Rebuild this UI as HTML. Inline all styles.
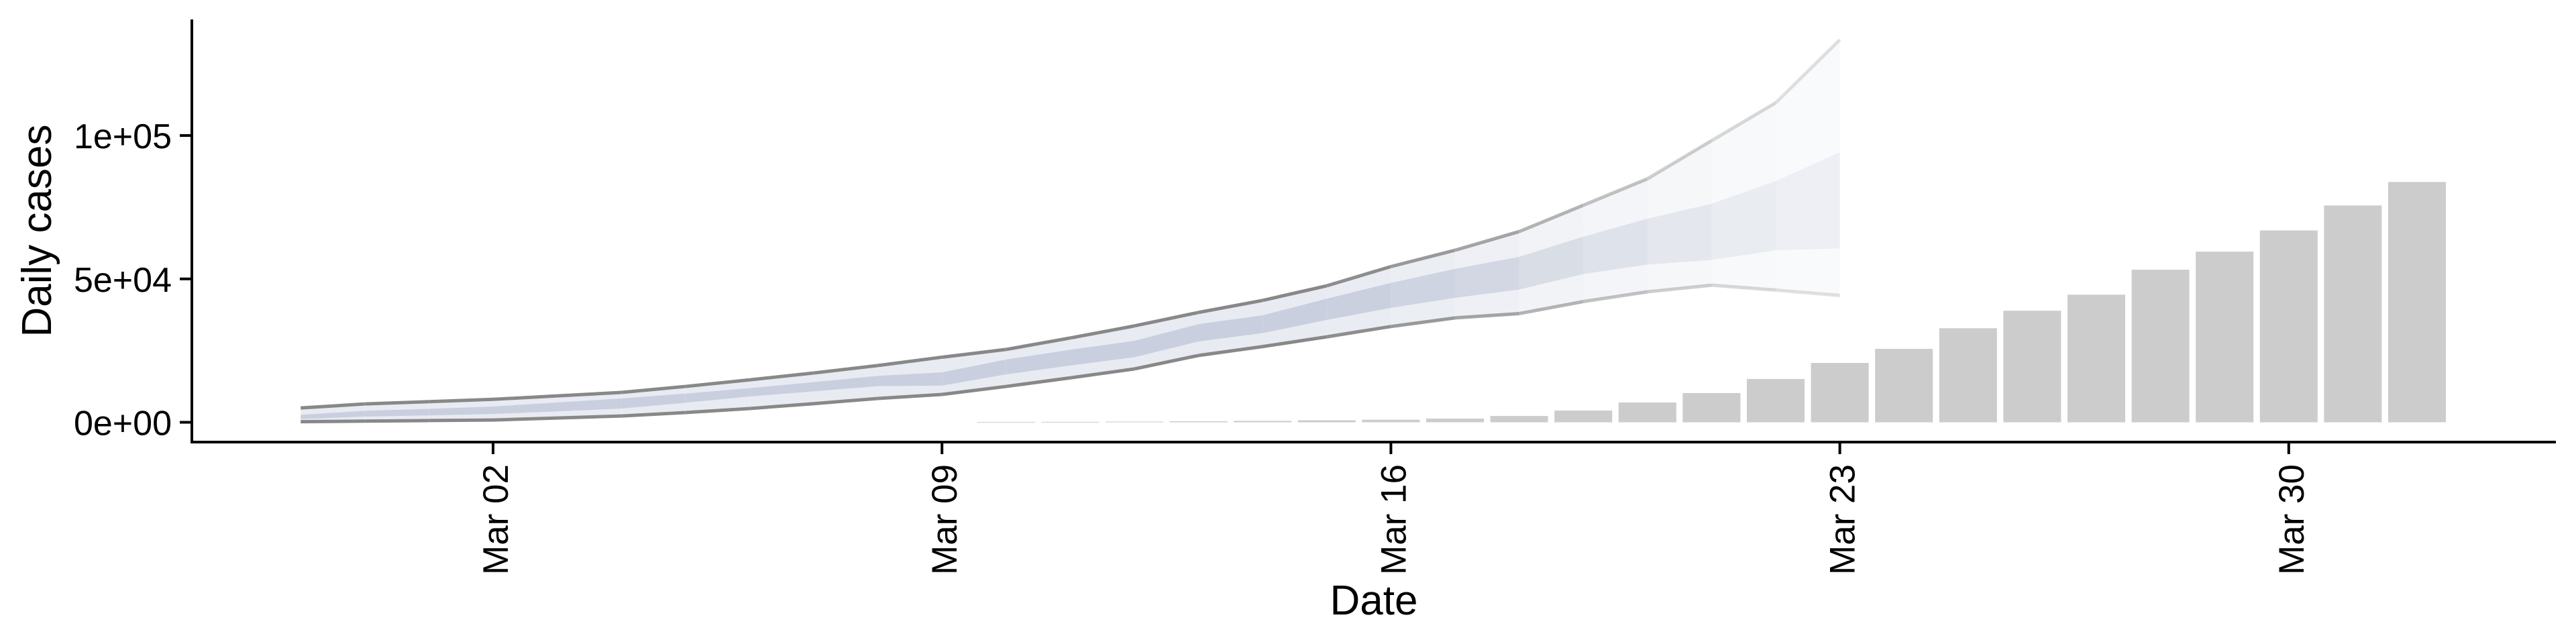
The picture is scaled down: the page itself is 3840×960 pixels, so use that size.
<!DOCTYPE html>
<html><head><meta charset="utf-8"><style>
html,body{margin:0;padding:0;background:#fff}
svg{display:block}
text{font-family:"Liberation Sans",Arial,sans-serif;fill:#000}
</style></head><body>
<svg id="chart" width="3840" height="960" viewBox="0 0 3840 960" xmlns="http://www.w3.org/2000/svg">
<g id="ribbons"></g>
<g id="bars"></g>
<g id="axes"></g>
</svg>
<script>
// ---- data ----
const ribbonDays = [-3,-2,-1,0,1,2,3,4,5,6,7,8,9,10,11,12,13,14,15,16,17,18,19,20,21]; // days relative to Mar 02 (Feb 28 .. Mar 23)
const outerUpper = [5000,6400,7200,8000,9200,10400,12500,14800,17200,19800,22700,25400,29400,33600,38300,42500,47600,54300,60000,66500,75700,84900,98200,111400,133400];
const outerLower = [200,400,600,800,1500,2200,3400,4800,6500,8300,9700,12500,15500,18600,23300,26400,29800,33400,36400,37900,42100,45500,47800,46100,44200];
const innerUpper = [2600,4000,4700,5500,6900,8300,10000,11900,14000,16200,17400,21900,25300,28400,34200,37300,43100,48600,53500,57700,64700,71000,76200,84100,94200];
const innerLower = [1100,2000,2400,2900,3800,4800,6800,9000,10800,12600,12800,16700,19800,22700,28200,31100,35700,39900,43400,46300,51700,55000,56600,60000,60600];
const ribbonAlpha = [1,1,1,1,1,1,1,1,1,1,1,1,1,1,1,1,1,0.95,0.85,0.75,0.62,0.5,0.4,0.32,0.25];
const barDays = [8,9,10,11,12,13,14,15,16,17,18,19,20,21,22,23,24,25,26,27,28,29,30];
const barValues = [100,150,250,350,500,700,900,1300,2200,4100,6900,10200,15100,20700,25600,32800,38900,44500,53200,59500,66900,75600,83800];
const yTicks = [0,50000,100000];
const yTickLabels = ["0e+00","5e+04","1e+05"];
const xTicks = [0,7,14,21,28];
const xTickLabels = ["Mar 02","Mar 09","Mar 16","Mar 23","Mar 30"];

// ---- scales ----
const X0 = 735, DAY = 95.6;
const Y0 = 629.5, PER = 427.5/100000;
const x = d => X0 + d*DAY;
const y = v => Y0 - v*PER;
const NS = "http://www.w3.org/2000/svg";
function mk(tag, parent, attrs){const e=document.createElementNS(NS,tag);for(const k in attrs)e.setAttribute(k,attrs[k]);parent.appendChild(e);return e;}

// ribbons drawn per segment
const rg = document.getElementById('ribbons');
for(let i=0;i<ribbonDays.length-1;i++){
  const a = ribbonAlpha[i+1];
  const x1=x(ribbonDays[i]), x2=x(ribbonDays[i+1]);
  const outer = mk('polygon', rg, {points:`${x1},${y(outerUpper[i])} ${x2},${y(outerUpper[i+1])} ${x2},${y(outerLower[i+1])} ${x1},${y(outerLower[i])}`, fill:'#e8ebf1', 'fill-opacity':a});
  
  
  const inner = mk('polygon', rg, {points:`${x1},${y(innerUpper[i])} ${x2},${y(innerUpper[i+1])} ${x2},${y(innerLower[i+1])} ${x1},${y(innerLower[i])}`, fill:'#c7cddc', 'fill-opacity':a*0.95});
  
  
  const lu = mk('line', rg, {x1:x1,y1:y(outerUpper[i]),x2:x2,y2:y(outerUpper[i+1]),stroke:'#888','stroke-width':5,'stroke-opacity':a});
  
  
  const ll = mk('line', rg, {x1:x1,y1:y(outerLower[i]),x2:x2,y2:y(outerLower[i+1]),stroke:'#888','stroke-width':5,'stroke-opacity':a});
  
  
}

// bars
const bg = document.getElementById('bars');
const BW = DAY*0.9;
barDays.forEach((d,i)=>{
  const top=y(barValues[i]);
  const r = mk('rect', bg, {x:x(d)-BW/2, y:top, width:BW, height:Math.max(Y0-top,1), fill:'#cccccc'});
  
  
});

// axes
const ag = document.getElementById('axes');
const ya = mk('line', ag, {x1:286,y1:29,x2:286,y2:661,stroke:'#000','stroke-width':4});


const xa = mk('line', ag, {x1:284,y1:659,x2:3810,y2:659,stroke:'#000','stroke-width':4});


yTicks.forEach((v,i)=>{
  const t = mk('line', ag, {x1:268,y1:y(v),x2:286,y2:y(v),stroke:'#000','stroke-width':4});
  
  
  const l = mk('text', ag, {x:256,y:y(v)+19,'text-anchor':'end','font-size':52});
  l.textContent = yTickLabels[i];
  
  
});
xTicks.forEach((d,i)=>{
  const t = mk('line', ag, {x1:x(d),y1:659,x2:x(d),y2:677,stroke:'#000','stroke-width':4});
  
  
  const l = mk('text', ag, {x:0,y:0,'text-anchor':'end','font-size':53,transform:`translate(${x(d)+22},692) rotate(-90)`});
  l.textContent = xTickLabels[i];
  
  
});
const yt = mk('text', ag, {x:0,y:0,'text-anchor':'middle','font-size':62,transform:'translate(76,344) rotate(-90)'});
yt.textContent='Daily cases';


const xt = mk('text', ag, {x:2048,y:916,'text-anchor':'middle','font-size':62});
xt.textContent='Date';


</script>
</body></html>
